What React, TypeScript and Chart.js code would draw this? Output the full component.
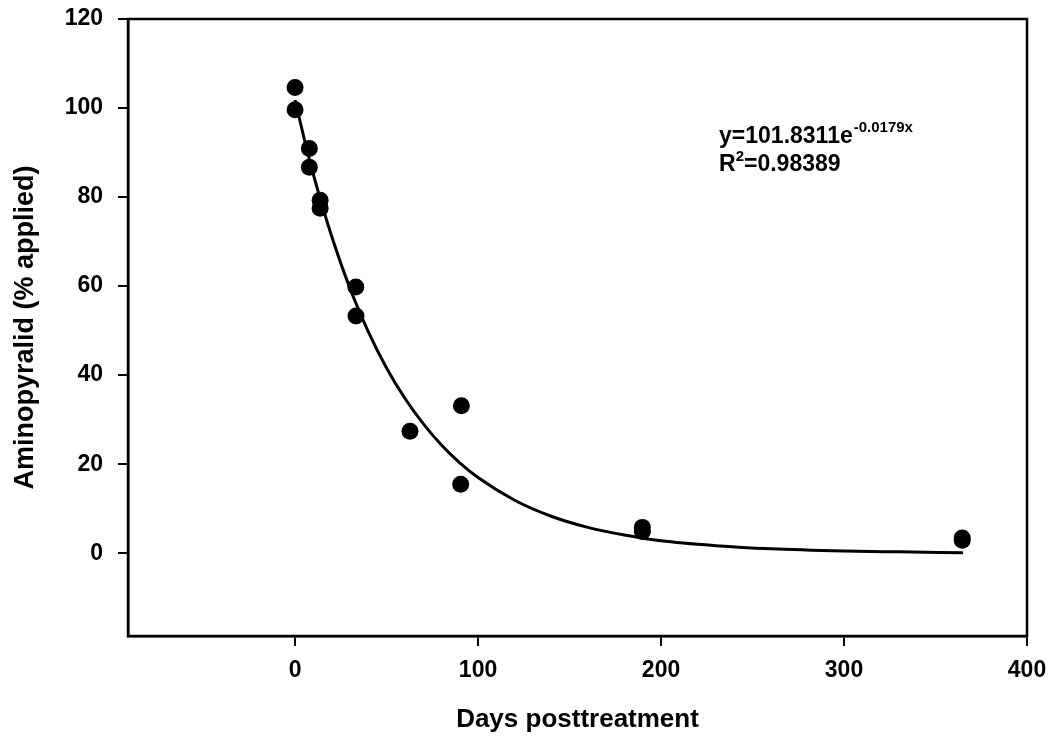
import React, { useEffect, useRef } from "react";
import { Chart, registerables } from "chart.js";

Chart.register(...registerables);

// Observed data (days posttreatment, % applied)
const obsDays = [0, 0, 7.8, 7.8, 13.7, 13.7, 33.2, 33.3, 62.8, 90.9, 90.5, 189.8, 189.8, 364.6, 364.6];
const obsValues = [104.6, 99.6, 90.9, 86.7, 79.3, 77.5, 59.8, 53.3, 27.4, 33.1, 15.5, 5.8, 4.9, 3.4, 2.9];

// Fitted curve
const curveDays = [0, 5, 10, 15, 20, 30, 40, 50, 60, 70, 80, 90, 100, 120, 140, 160, 180, 200, 230, 260, 300, 330, 365];
const curveValues = [101.8, 93.1, 85.1, 77.9, 71.2, 59.5, 49.8, 41.6, 34.8, 29.1, 24.3, 20.3, 17.0, 11.9, 8.3, 5.8, 4.1, 2.8, 1.7, 1.0, 0.5, 0.3, 0.1];

const xTicks = [0, 100, 200, 300, 400];
const yTicks = [0, 20, 40, 60, 80, 100, 120];

const xTitle = "Days posttreatment";
const yTitle = "Aminopyralid (% applied)";
const eqMain = "y=101.8311e";
const eqSup = "-0.0179x";
const r2Main = "R";
const r2Sup = "2";
const r2Rest = "=0.98389";
const annotX = 231.7;
const annotY = 92.1;

const FONT = '"Liberation Sans", Arial, sans-serif';

export default function App() {
  const ref = useRef<HTMLCanvasElement>(null);

  useEffect(() => {
    document.body.style.margin = "0";
    const canvas = ref.current;
    if (!canvas) return;

    const framePlugin = {
      id: "frame",
      afterDraw(chart: any) {
        const { ctx, chartArea } = chart;
        ctx.save();
        ctx.strokeStyle = "#000";
        ctx.lineWidth = 2.5;
        ctx.strokeRect(chartArea.left, chartArea.top, chartArea.right - chartArea.left, chartArea.bottom - chartArea.top);

        const xs = chart.scales.x;
        const ys = chart.scales.y;
        const px = xs.getPixelForValue(annotX);
        const py = ys.getPixelForValue(annotY);
        ctx.fillStyle = "#000";
        ctx.textBaseline = "alphabetic";
        ctx.textAlign = "left";
        ctx.font = `bold 23px ${FONT}`;
        ctx.fillText(eqMain, px, py);
        const w1 = ctx.measureText(eqMain).width;
        ctx.font = `bold 15px ${FONT}`;
        ctx.fillText(eqSup, px + w1 + 1, py - 11);

        const py2 = py + 28;
        ctx.font = `bold 23px ${FONT}`;
        ctx.fillText(r2Main, px, py2);
        const wR = ctx.measureText(r2Main).width;
        ctx.font = `bold 15px ${FONT}`;
        ctx.fillText(r2Sup, px + wR, py2 - 10);
        const w2 = ctx.measureText(r2Sup).width;
        ctx.font = `bold 23px ${FONT}`;
        ctx.fillText(r2Rest, px + wR + w2, py2);
        ctx.restore();
      },
    };

    const chart = new Chart(canvas, {
      type: "scatter",
      data: {
        datasets: [
          {
            label: "fit",
            data: curveDays.map((d, i) => ({ x: d, y: curveValues[i] })),
            showLine: true,
            borderColor: "#000",
            borderWidth: 3,
            pointRadius: 0,
            cubicInterpolationMode: "monotone",
            order: 2,
          } as any,
          {
            label: "observed",
            data: obsDays.map((d, i) => ({ x: d, y: obsValues[i] })),
            backgroundColor: "#000",
            borderColor: "#000",
            pointRadius: 8.5,
            pointBorderWidth: 0,
            order: 1,
          },
        ],
      },
      options: {
        animation: false,
        responsive: true,
        maintainAspectRatio: false,
        layout: { padding: { top: 19, right: 24, left: 0, bottom: 0 } },
        plugins: { legend: { display: false }, tooltip: { enabled: false } },
        scales: {
          x: {
            type: "linear",
            min: -91.3,
            max: 400,
            afterBuildTicks: (s: any) => {
              s.ticks = xTicks.map((v) => ({ value: v }));
            },
            afterFit: (s: any) => {
              s.height = 103;
              s.paddingLeft = 0;
              s.paddingRight = 0;
            },
            grid: { display: true, drawOnChartArea: false, drawTicks: true, tickLength: 10, color: "#000", lineWidth: 2 },
            border: { display: true, color: "#000", width: 2.5 },
            ticks: { color: "#000", font: { family: FONT, size: 23, weight: "bold" }, padding: 11, maxRotation: 0 },
            title: { display: true, text: xTitle, color: "#000", font: { family: FONT, size: 26, weight: "bold" }, padding: { top: 0, bottom: 4 } },
          },
          y: {
            type: "linear",
            min: -18.6,
            max: 120,
            afterBuildTicks: (s: any) => {
              s.ticks = yTicks.map((v) => ({ value: v }));
            },
            afterFit: (s: any) => {
              s.width = 128;
              s.paddingTop = 0;
              s.paddingBottom = 0;
            },
            grid: { display: true, drawOnChartArea: false, drawTicks: true, tickLength: 10, color: "#000", lineWidth: 2 },
            border: { display: true, color: "#000", width: 2.5 },
            ticks: { color: "#000", font: { family: FONT, size: 23, weight: "bold" }, padding: 15 },
            title: { display: true, text: yTitle, color: "#000", font: { family: FONT, size: 27, weight: "bold" }, padding: { top: 9, bottom: 0 } },
          },
        },
      },
      plugins: [framePlugin],
    });

    return () => chart.destroy();
  }, []);

  return (
    <div style={{ width: 1051, height: 739, position: "relative" }}>
      <canvas ref={ref} />
    </div>
  );
}
